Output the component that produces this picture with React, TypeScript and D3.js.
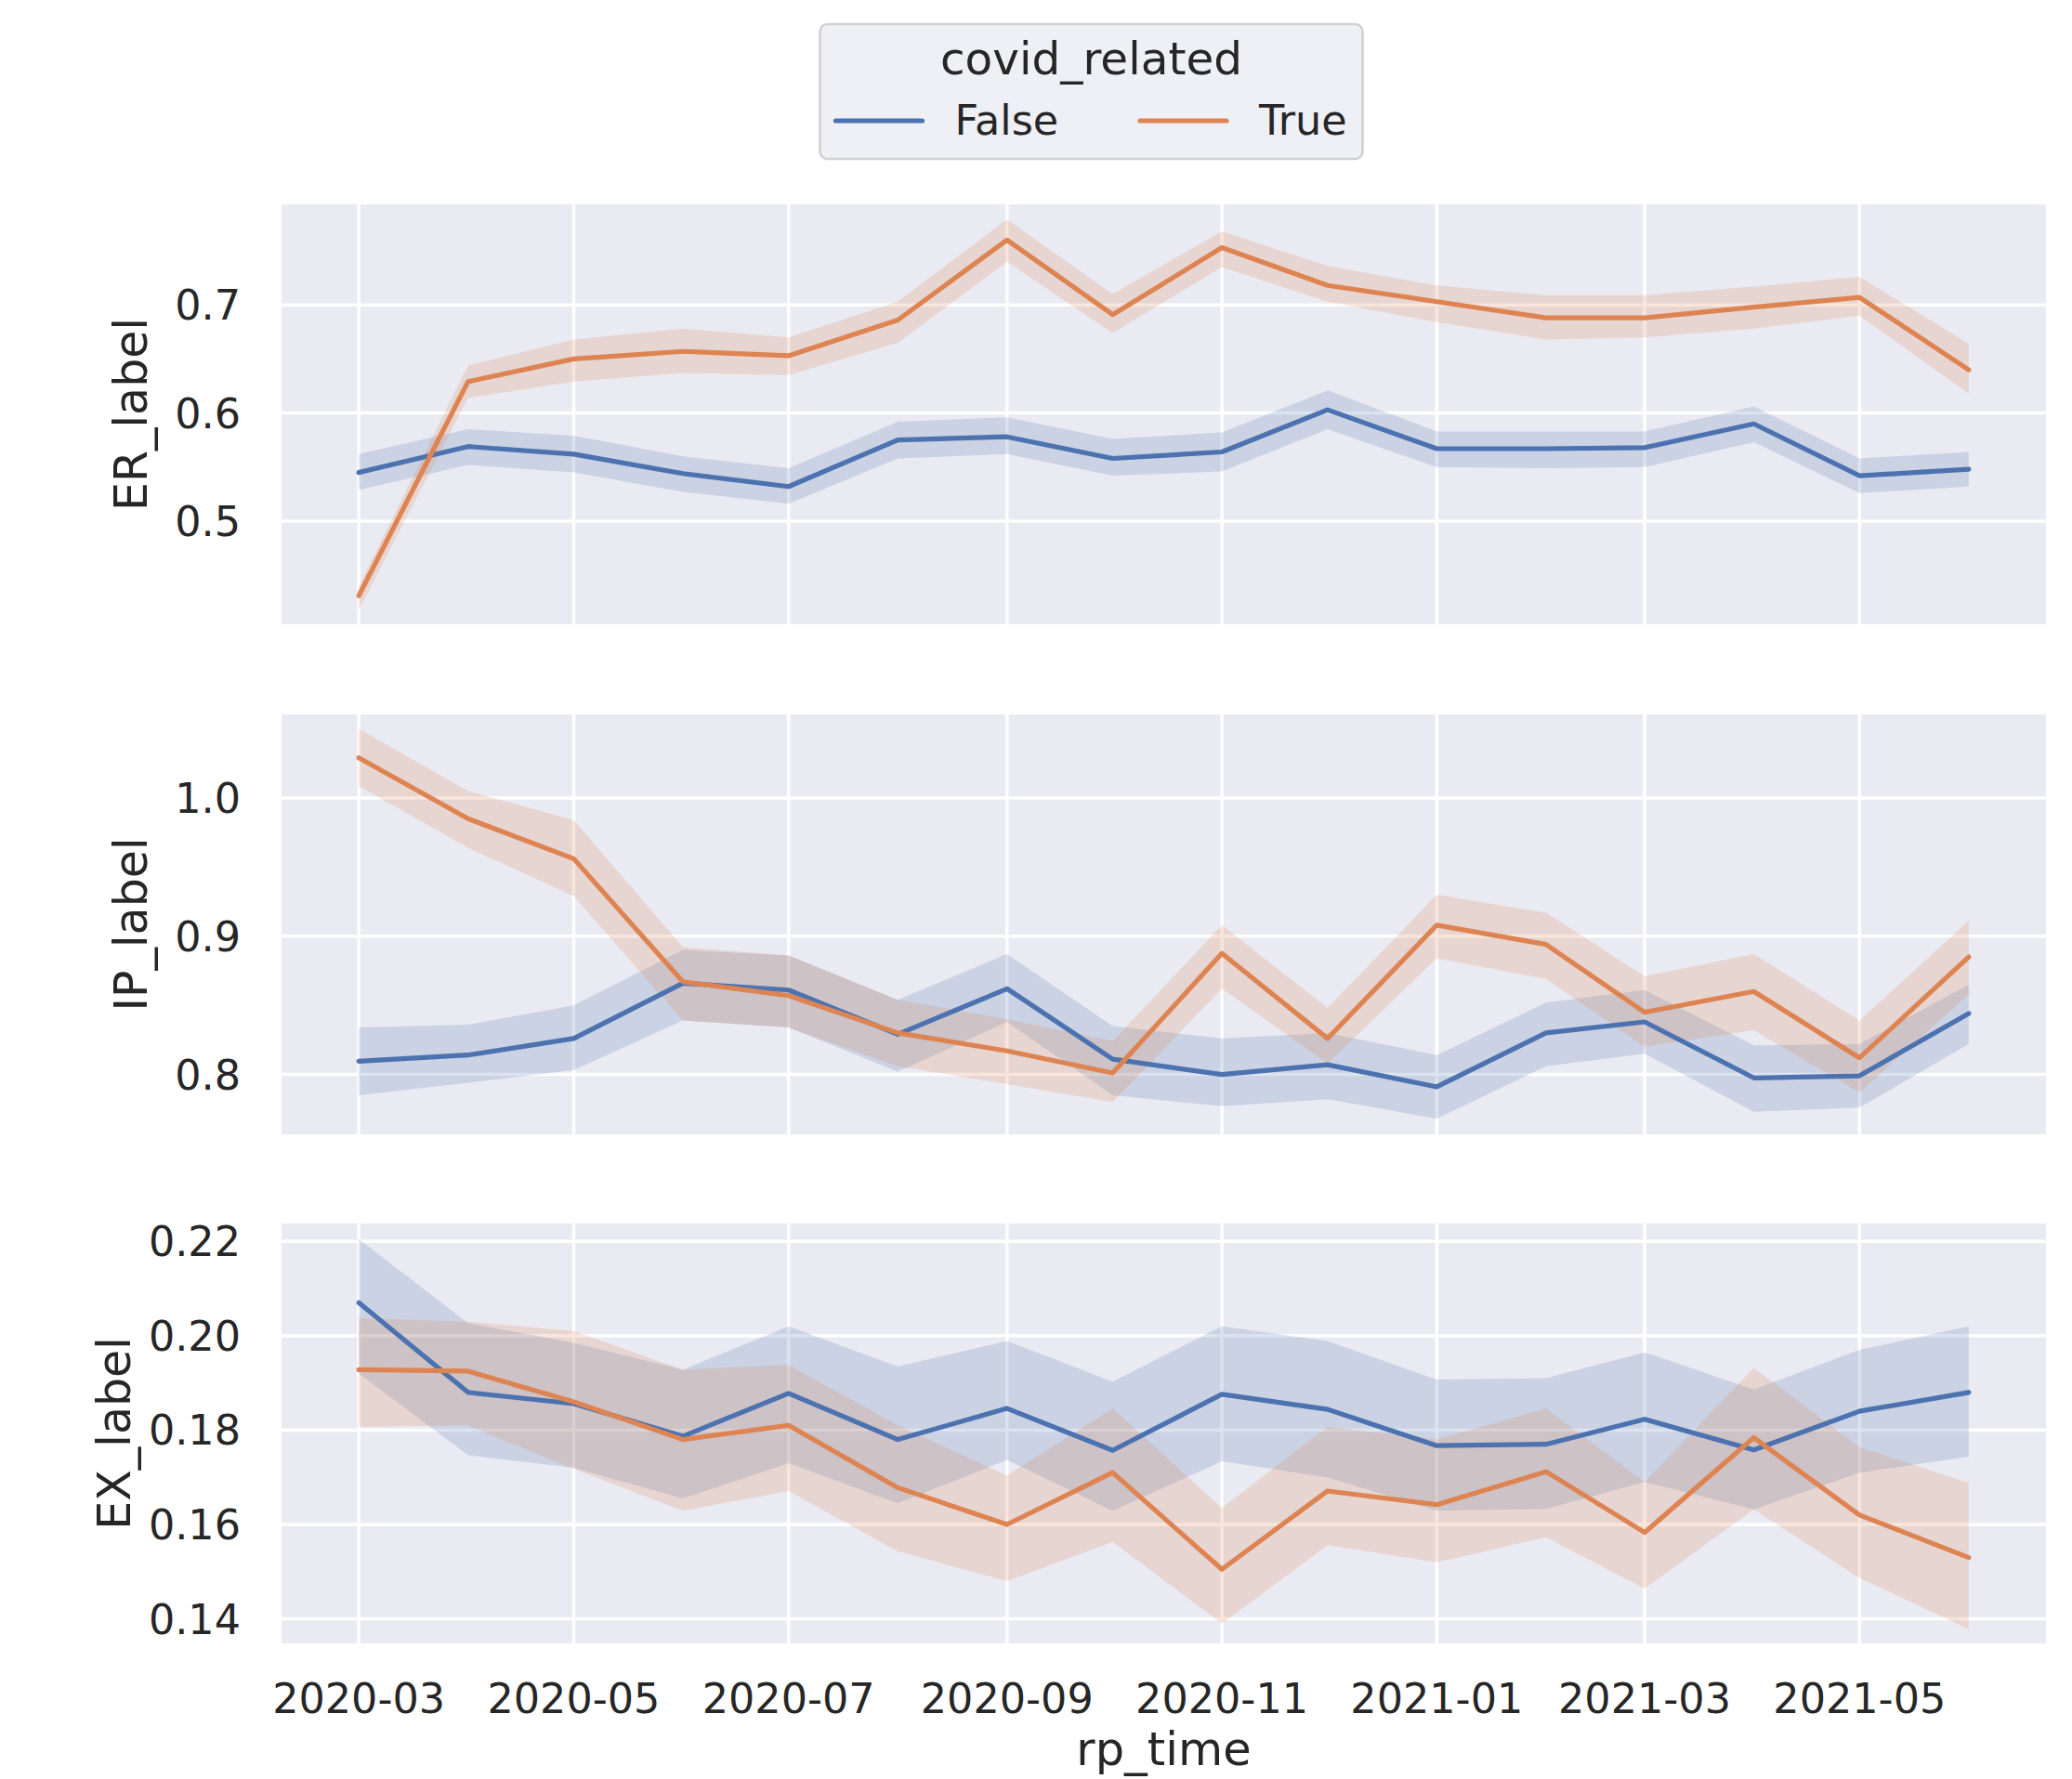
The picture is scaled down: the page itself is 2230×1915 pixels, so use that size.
import * as d3 from 'd3';

// monthly points
const months = ['2020-03', '2020-04', '2020-05', '2020-06', '2020-07', '2020-08', '2020-09', '2020-10',
  '2020-11', '2020-12', '2021-01', '2021-02', '2021-03', '2021-04', '2021-05', '2021-06'];
const xTickLabels = ['2020-03', '2020-05', '2020-07', '2020-09', '2020-11', '2021-01', '2021-03', '2021-05'];
const hues = ['False', 'True'];

// ER_label
const erFalse = [0.545, 0.569, 0.562, 0.544, 0.532, 0.575, 0.578, 0.558, 0.564, 0.603, 0.567, 0.567, 0.568, 0.590, 0.542, 0.548];
const erFalseLo = [0.529, 0.552, 0.545, 0.527, 0.516, 0.558, 0.562, 0.542, 0.546, 0.585, 0.550, 0.549, 0.550, 0.573, 0.526, 0.532];
const erFalseHi = [0.562, 0.585, 0.579, 0.560, 0.549, 0.592, 0.596, 0.576, 0.582, 0.621, 0.583, 0.583, 0.583, 0.606, 0.558, 0.564];
const erTrue = [0.431, 0.629, 0.650, 0.657, 0.653, 0.686, 0.760, 0.691, 0.753, 0.718, 0.703, 0.688, 0.688, 0.698, 0.707, 0.640];
const erTrueLo = [0.418, 0.614, 0.629, 0.637, 0.635, 0.665, 0.740, 0.674, 0.735, 0.703, 0.684, 0.668, 0.670, 0.678, 0.690, 0.618];
const erTrueHi = [0.440, 0.644, 0.668, 0.678, 0.670, 0.703, 0.779, 0.710, 0.768, 0.736, 0.718, 0.709, 0.709, 0.717, 0.726, 0.664];

// IP_label
const ipFalse = [0.8095, 0.814, 0.826, 0.866, 0.861, 0.829, 0.862, 0.811, 0.800, 0.807, 0.791, 0.830, 0.838, 0.7975, 0.799, 0.844];
const ipFalseLo = [0.785, 0.794, 0.803, 0.839, 0.834, 0.802, 0.838, 0.785, 0.777, 0.782, 0.768, 0.806, 0.815, 0.773, 0.776, 0.822];
const ipFalseHi = [0.834, 0.836, 0.850, 0.890, 0.886, 0.854, 0.887, 0.835, 0.826, 0.830, 0.814, 0.852, 0.861, 0.821, 0.822, 0.865];
const ipTrue = [1.029, 0.985, 0.956, 0.867, 0.857, 0.830, 0.817, 0.801, 0.8875, 0.826, 0.908, 0.894, 0.845, 0.860, 0.812, 0.885];
const ipTrueLo = [1.0085, 0.964, 0.929, 0.839, 0.834, 0.806, 0.793, 0.780, 0.862, 0.808, 0.884, 0.869, 0.820, 0.832, 0.787, 0.858];
const ipTrueHi = [1.050, 1.005, 0.984, 0.892, 0.886, 0.854, 0.840, 0.824, 0.908, 0.848, 0.930, 0.917, 0.871, 0.887, 0.839, 0.911];

// EX_label
const exFalse = [0.207, 0.188, 0.1856, 0.1787, 0.1878, 0.178, 0.1846, 0.1757, 0.1876, 0.1844, 0.1767, 0.177, 0.1823, 0.1758, 0.184, 0.188];
const exFalseLo = [0.192, 0.1747, 0.172, 0.1655, 0.173, 0.1645, 0.1737, 0.1629, 0.1734, 0.170, 0.1629, 0.1633, 0.169, 0.1632, 0.171, 0.1744];
const exFalseHi = [0.2205, 0.2027, 0.1985, 0.1928, 0.202, 0.1935, 0.1989, 0.1903, 0.202, 0.1989, 0.1907, 0.191, 0.1965, 0.1886, 0.197, 0.202];
const exTrue = [0.1928, 0.1925, 0.186, 0.178, 0.181, 0.1678, 0.160, 0.171, 0.1505, 0.1671, 0.1642, 0.1712, 0.1583, 0.1784, 0.162, 0.153];
const exTrueLo = [0.1807, 0.181, 0.1718, 0.1629, 0.1671, 0.1543, 0.148, 0.1563, 0.139, 0.1556, 0.152, 0.1573, 0.1464, 0.1632, 0.1487, 0.1378];
const exTrueHi = [0.2037, 0.203, 0.201, 0.1928, 0.1938, 0.181, 0.1704, 0.1846, 0.1635, 0.1807, 0.178, 0.1846, 0.169, 0.1932, 0.1764, 0.1688];

const erTicks = ['0.5', '0.6', '0.7'];
const ipTicks = ['0.8', '0.9', '1.0'];
const exTicks = ['0.14', '0.16', '0.18', '0.20', '0.22'];

const W = 2230, H = 1915;
const left = 303, right = 2202;
const panelH = 452;
const font = "'DejaVu Sans', sans-serif";
const textColor = '#262626';
const colors = ['#4C72B0', '#DD8452'];
const parse = d3.timeParse('%Y-%m');

const panels = [
  { name: 'ER_label', top: 220, labelX: 158, domain: [0.4046, 0.793], ticks: erTicks,
    series: [[erFalse, erFalseLo, erFalseHi], [erTrue, erTrueLo, erTrueHi]] },
  { name: 'IP_label', top: 769, labelX: 158, domain: [0.7567, 1.0604], ticks: ipTicks,
    series: [[ipFalse, ipFalseLo, ipFalseHi], [ipTrue, ipTrueLo, ipTrueHi]] },
  { name: 'EX_label', top: 1317, labelX: 140, domain: [0.1348, 0.2238], ticks: exTicks,
    series: [[exFalse, exFalseLo, exFalseHi], [exTrue, exTrueLo, exTrueHi]] },
];

export default function App() {
  const dates = months.map(m => parse(m)!);
  const first = dates[0], last = dates[dates.length - 1];
  const pad = (last.getTime() - first.getTime()) * 0.048;
  const x = d3.scaleTime()
    .domain([new Date(first.getTime() - pad), new Date(last.getTime() + pad)])
    .range([left, right]);
  const xTicks = xTickLabels.map(t => parse(t)!);

  return (
    <svg width={W} height={H} style={{ position: 'absolute', left: 0, top: 0, background: 'white' }}
      fontFamily={font}>
      {panels.map(p => {
        const y = d3.scaleLinear().domain(p.domain).range([p.top + panelH, p.top]);
        const line = d3.line<number>().x((_, i) => x(dates[i])).y(v => y(v));
        return (
          <g key={p.name}>
            <rect x={left} y={p.top} width={right - left} height={panelH} fill="#EAEAF2" />
            {xTicks.map((t, i) => (
              <line key={'vx' + i} x1={x(t)} x2={x(t)} y1={p.top} y2={p.top + panelH}
                stroke="white" strokeWidth={3.5} />
            ))}
            {p.ticks.map(t => (
              <g key={t}>
                <line x1={left} x2={right} y1={y(+t)} y2={y(+t)} stroke="white" strokeWidth={3.5} />
                <text x={259} y={y(+t)} dy="0.36em" textAnchor="end" fontSize={44.5} fill={textColor}>{t}</text>
              </g>
            ))}
            {p.series.map(([, lo, hi], k) => {
              const area = d3.area<number>().x((_, i) => x(dates[i])).y0((_, i) => y(lo[i])).y1(v => y(v));
              return <path key={'a' + k} d={area(hi)!} fill={colors[k]} fillOpacity={0.2} stroke="none" />;
            })}
            {p.series.map(([mean], k) => (
              <path key={'l' + k} d={line(mean)!} fill="none" stroke={colors[k]} strokeWidth={5.2}
                strokeLinejoin="round" strokeLinecap="round" />
            ))}
            <text transform={`translate(${p.labelX},${p.top + panelH / 2}) rotate(-90)`}
              textAnchor="middle" fontSize={49} fill={textColor}>{p.name}</text>
          </g>
        );
      })}

      {xTicks.map((t, i) => (
        <text key={'xt' + i} x={x(t)} y={1844} textAnchor="middle" fontSize={44.5} fill={textColor}>
          {xTickLabels[i]}
        </text>
      ))}
      <text x={(left + right) / 2} y={1900} textAnchor="middle" fontSize={49.5} fill={textColor}>rp_time</text>

      {/* legend */}
      <g>
        <rect x={882.5} y={26} width={584} height={145} rx={8} fill="#EEEEF5" fillOpacity={0.95}
          stroke="#d0d0d0" strokeWidth={2.5} />
        <text x={1174.5} y={80} textAnchor="middle" fontSize={48.5} fill={textColor}>covid_related</text>
        {hues.map((h, k) => {
          const lx = k === 0 ? 899.5 : 1227;
          return (
            <g key={h}>
              <line x1={lx} x2={lx + 93} y1={130} y2={130} stroke={colors[k]} strokeWidth={5.2}
                strokeLinecap="round" />
              <text x={lx + 128} y={145} fontSize={44.5} fill={textColor}>{h}</text>
            </g>
          );
        })}
      </g>
    </svg>
  );
}
